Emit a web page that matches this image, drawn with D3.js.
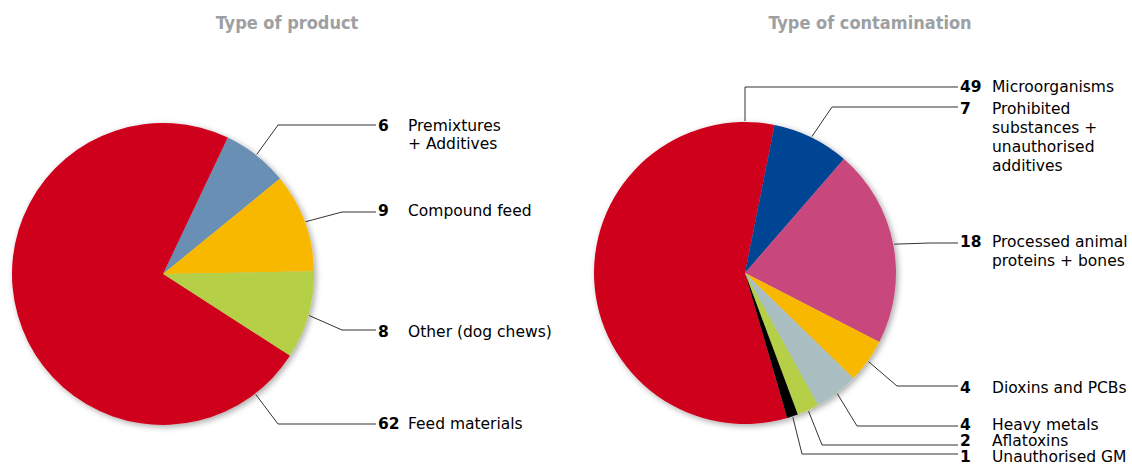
<!DOCTYPE html>
<html>
<head>
<meta charset="utf-8">
<script src="https://cdn.jsdelivr.net/npm/d3@7"></script>
<style>
  html, body { margin: 0; padding: 0; background: #fff; }
  svg { display: block; }
</style>
</head>
<body>
<svg id="chart" width="1132" height="466"></svg>
<script>
// ---- data ----
const productTitle = "Type of product";
const productLabels = [["Premixtures", "+ Additives"], ["Compound feed"], ["Other (dog chews)"], ["Feed materials"]];
const productValues = [6, 9, 8, 62];
const productColors = ["#6a8fb5", "#f9b800", "#b5cf47", "#cf001c"];

const contamTitle = "Type of contamination";
const contamLabels = [["Microorganisms"], ["Prohibited", "substances +", "unauthorised", "additives"],
  ["Processed animal", "proteins + bones"], ["Dioxins and PCBs"], ["Heavy metals"], ["Aflatoxins"], ["Unauthorised GM"]];
const contamValues = [49, 7, 18, 4, 4, 2, 1];
const contamColors = ["#cf001c", "#004494", "#c8477d", "#f9b800", "#a9bfc1", "#b5cf47", "#000000"];

// ---- layout (label leader lines) ----
const productLayout = [
  { lineY: 125, textY: 131, elbowX: 278 },
  { lineY: 212, textY: 216, elbowX: 342 },
  { lineY: 330, textY: 337, elbowX: 342 },
  { lineY: 424, textY: 429, elbowX: 278, anchorDeg: 142.4 }
];
const contamLayout = [
  { lineY: 87, textY: 92, elbowX: 745, anchorDeg: 0 },
  { lineY: 107, textY: 114, elbowX: 832 },
  { lineY: 243, textY: 247, elbowX: 930 },
  { lineY: 386, textY: 393, elbowX: 897 },
  { lineY: 426, textY: 430, elbowX: 857 },
  { lineY: 445, textY: 446, elbowX: 822 },
  { lineY: 454, textY: 462, elbowX: 802 }
];

const svg = d3.select("#chart");
const defs = svg.append("defs");
const f = defs.append("filter").attr("id", "shadow")
  .attr("x", "-10%").attr("y", "-10%").attr("width", "120%").attr("height", "120%");
f.append("feGaussianBlur").attr("in", "SourceAlpha").attr("stdDeviation", 3).attr("result", "b");
f.append("feOffset").attr("in", "b").attr("dx", 2).attr("dy", 2).attr("result", "o");
f.append("feComponentTransfer").attr("in", "o").attr("result", "s")
  .append("feFuncA").attr("type", "linear").attr("slope", 0.35);
const m = f.append("feMerge");
m.append("feMergeNode").attr("in", "s");
m.append("feMergeNode").attr("in", "SourceGraphic");

const deg = Math.PI / 180;

function drawPie(opts) {
  const { cx, cy, r, values, colors, labels, layout, startDeg, numX, textX, lineEnd, lineH, title, titleX } = opts;
  svg.append("text").attr("x", titleX).attr("y", 29)
    .attr("text-anchor", "middle")
    .attr("font-family", "'Liberation Sans Narrow', 'DejaVu Sans Condensed', sans-serif")
    .attr("font-weight", "bold").attr("font-size", 18).attr("fill", "#9d9fa2")
    .text(title);

  const pie = d3.pie().sort(null).value(d => d)
    .startAngle(startDeg * deg).endAngle(startDeg * deg + 2 * Math.PI);
  const arcs = pie(values);
  const arc = d3.arc().innerRadius(0).outerRadius(r);
  const g = svg.append("g").attr("transform", `translate(${cx},${cy})`);
  g.append("g").attr("filter", "url(#shadow)")
    .selectAll("path").data(arcs).join("path")
    .attr("d", arc).attr("fill", (d, i) => colors[i]);

  arcs.forEach((a, i) => {
    const L = layout[i];
    const ang = L.anchorDeg !== undefined ? L.anchorDeg * deg : (a.startAngle + a.endAngle) / 2;
    const ax = cx + (r + 1) * Math.sin(ang);
    const ay = cy - (r + 1) * Math.cos(ang);
    svg.append("path")
      .attr("d", d3.line()([[ax, ay], [L.elbowX, L.lineY], [lineEnd, L.lineY]]))
      .attr("fill", "none").attr("stroke", "#333").attr("stroke-width", 1);
    svg.append("text").attr("x", numX).attr("y", L.textY)
      .attr("font-family", "'DejaVu Sans', Verdana, sans-serif")
      .attr("font-weight", "bold").attr("font-size", 15.5).attr("fill", "#000")
      .text(values[i]);
    const t = svg.append("text").attr("x", textX).attr("y", L.textY)
      .attr("font-family", "'DejaVu Sans', Verdana, sans-serif")
      .attr("font-size", 15.5).attr("fill", "#000");
    labels[i].forEach((s, k) => {
      t.append("tspan").attr("x", textX).attr("y", L.textY + k * lineH).text(s);
    });
  });
}

drawPie({ cx: 163, cy: 274, r: 151, values: productValues, colors: productColors,
  labels: productLabels, layout: productLayout, startDeg: 25.4,
  numX: 378, textX: 408, lineEnd: 376, lineH: 18, title: productTitle, titleX: 287 });

drawPie({ cx: 745, cy: 273, r: 151, values: contamValues, colors: contamColors,
  labels: contamLabels, layout: contamLayout, startDeg: 11.3 - 49 / 85 * 360,
  numX: 960, textX: 992, lineEnd: 958, lineH: 19, title: contamTitle, titleX: 870 });
</script>
</body>
</html>
